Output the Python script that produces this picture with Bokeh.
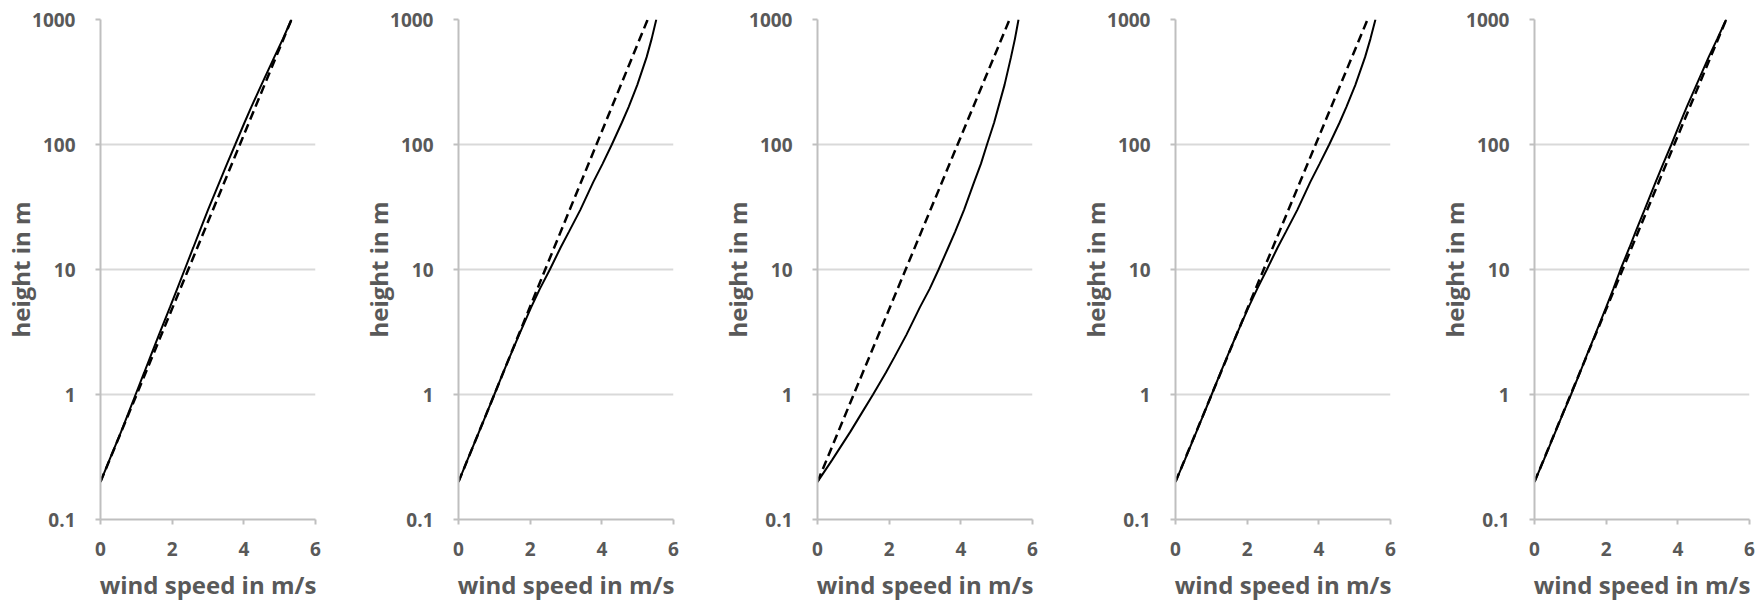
from bokeh.plotting import figure
from bokeh.layouts import row
from bokeh.models import Range1d, FixedTicker, CustomJSTickFormatter
from bokeh.embed import file_html
from bokeh.resources import INLINE

# Heights (m) at which the solid profiles are sampled
HEIGHTS = [0.2, 0.3, 0.5, 0.7, 1, 1.5, 2, 3, 5, 7, 10, 15, 20, 30, 50, 70,
           100, 150, 200, 300, 500, 700, 1000]
# Heights (m) for the dashed logarithmic profiles
LOG_HEIGHTS = [0.2, 1, 10, 100, 1000]

# Wind speed (m/s): solid = modelled profile, dashed = logarithmic profile
SOLID_1 = [0, 0.25, 0.57, 0.77, 0.98, 1.22, 1.39, 1.63, 1.94, 2.14, 2.35, 2.59,
           2.76, 3.00, 3.32, 3.53, 3.76, 4.02, 4.21, 4.49, 4.85, 5.09, 5.33]
DASHED_1 = [0, 1.01, 2.45, 3.89, 5.33]

SOLID_2 = [0, 0.25, 0.57, 0.78, 1.00, 1.25, 1.43, 1.69, 2.03, 2.27, 2.55, 2.85,
           3.08, 3.40, 3.76, 4.02, 4.28, 4.56, 4.75, 4.99, 5.25, 5.39, 5.52]
DASHED_2 = [0, 1.00, 2.42, 3.85, 5.28]

SOLID_3 = [0, 0.41, 0.91, 1.22, 1.55, 1.91, 2.15, 2.48, 2.86, 3.13, 3.38, 3.65,
           3.84, 4.09, 4.37, 4.56, 4.73, 4.93, 5.05, 5.22, 5.40, 5.51, 5.61]
DASHED_3 = [0, 1.01, 2.46, 3.91, 5.36]

SOLID_4 = [0, 0.26, 0.58, 0.79, 1.01, 1.26, 1.44, 1.70, 2.04, 2.28, 2.55, 2.85,
           3.08, 3.40, 3.76, 4.02, 4.29, 4.58, 4.77, 5.02, 5.29, 5.44, 5.58]
DASHED_4 = [0, 1.01, 2.46, 3.91, 5.36]

SOLID_5 = [0, 0.26, 0.58, 0.79, 1.02, 1.27, 1.44, 1.69, 2.00, 2.20, 2.40, 2.65,
           2.82, 3.07, 3.38, 3.59, 3.82, 4.07, 4.25, 4.52, 4.86, 5.10, 5.35]
DASHED_5 = [0, 1.01, 2.46, 3.90, 5.35]

PANELS = [(SOLID_1, DASHED_1), (SOLID_2, DASHED_2), (SOLID_3, DASHED_3),
          (SOLID_4, DASHED_4), (SOLID_5, DASHED_5)]

X_TICKS = [0, 2, 4, 6]
Y_TICKS = [0.1, 1, 10, 100, 1000]
X_TITLE = "wind speed in m/s"
Y_TITLE = "height in m"

FONT = "Open Sans"
TEXT_COLOR = "#595959"
AXIS_COLOR = "#bfbfbf"
GRID_COLOR = "#d9d9d9"


def make_panel(solid, dashed, right_border):
    p = figure(
        frame_width=215, frame_height=500,
        x_range=Range1d(0, 6), y_range=Range1d(0.1, 1000),
        y_axis_type="log",
        output_backend="svg", toolbar_location=None,
        min_border_left=100, min_border_right=right_border,
        min_border_top=19, min_border_bottom=82,
    )
    p.outline_line_color = None
    p.background_fill_color = "white"
    p.border_fill_color = "white"

    p.xaxis.ticker = FixedTicker(ticks=X_TICKS)
    yt = FixedTicker(ticks=Y_TICKS)
    p.yaxis.ticker = yt
    p.ygrid.ticker = yt
    p.yaxis.formatter = CustomJSTickFormatter(
        code="return tick < 1 ? tick.toFixed(1) : tick.toFixed(0);")

    p.xgrid.grid_line_color = None
    p.ygrid.grid_line_color = GRID_COLOR
    p.ygrid.grid_line_width = 2

    for ax in (p.xaxis[0], p.yaxis[0]):
        ax.axis_line_color = AXIS_COLOR
        ax.axis_line_width = 2
        ax.major_tick_line_color = AXIS_COLOR
        ax.major_tick_line_width = 2
        ax.major_tick_in = 0
        ax.major_tick_out = 5
        ax.minor_tick_line_color = None
        ax.major_label_text_font = FONT
        ax.major_label_text_font_style = "bold"
        ax.major_label_text_font_size = "19px"
        ax.major_label_text_color = TEXT_COLOR
        ax.axis_label_text_font = FONT
        ax.axis_label_text_font_style = "bold"
        ax.axis_label_text_font_size = "24px"
        ax.axis_label_text_color = TEXT_COLOR

    p.xaxis.axis_label = X_TITLE
    p.yaxis.axis_label = Y_TITLE
    p.xaxis.major_label_standoff = 17
    p.yaxis.major_label_standoff = 20
    p.xaxis.axis_label_standoff = 9
    p.yaxis.axis_label_standoff = -8

    p.line(dashed, LOG_HEIGHTS, line_color="black", line_width=2.5, line_dash="9 5")
    p.line(solid, HEIGHTS, line_color="black", line_width=2)
    return p


right_borders = [43, 44, 43, 44, 10]
figs = [make_panel(s, d, rb) for (s, d), rb in zip(PANELS, right_borders)]
layout = row(*figs, spacing=0)

open("out.html", "w").write(file_html(layout, INLINE))
